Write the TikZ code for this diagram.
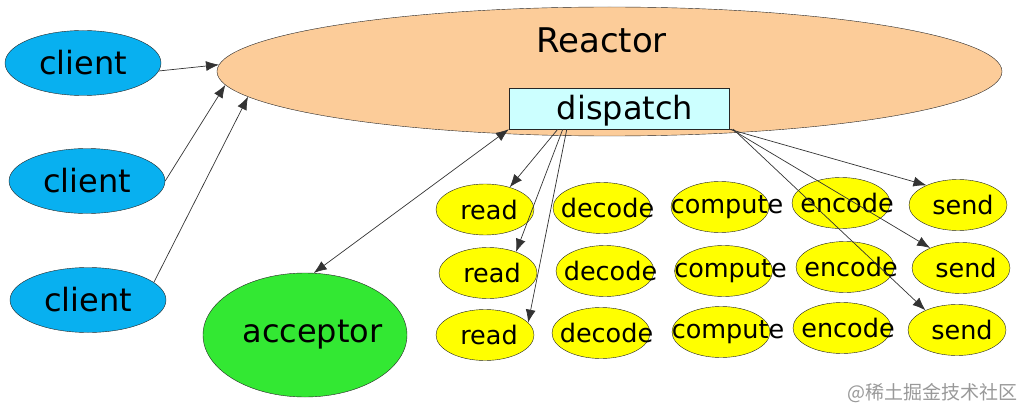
\documentclass[tikz,border=0pt]{standalone}
\usepackage{fontspec}
\setmainfont{DejaVu Sans}
\newfontfamily\cjkfont{Noto Sans CJK SC}
\usetikzlibrary{shapes.geometric,arrows.meta}

\definecolor{reactorpeach}{RGB}{252,204,153}
\definecolor{clientblue}{RGB}{8,176,240}
\definecolor{dispatchcyan}{RGB}{204,255,255}
\definecolor{acceptorgreen}{RGB}{51,232,51}
\definecolor{handleryellow}{RGB}{255,255,0}

\newcommand{\offtext}[2][10pt]{\makebox[0pt]{\hspace{#1}#2}}

\begin{document}
\begin{tikzpicture}[
                        x=1pt, y=-1pt,
                        >={Latex[length=13pt,width=10pt]},
                        bigfont/.style={
                            font=\fontsize{32}{38}\selectfont
                        },
                        smallfont/.style={
                            font=\fontsize{25.5}{30}\selectfont
                        },
                        client/.style={
                            ellipse,
                            draw=black!85,
                            fill=clientblue,
                            minimum width=156pt,
                            minimum height=65pt,
                            inner sep=0pt,
                            bigfont
                        },
                        handler/.style={
                            ellipse,
                            draw=black!85,
                            fill=handleryellow,
                            minimum width=98pt,
                            minimum height=51pt,
                            inner sep=0pt,
                            smallfont
                        },
                        line/.style={
                            draw=black!80,
                            line width=0.7pt,
                            ->
                        }]

                        \useasboundingbox (0,0) rectangle (1019,409);

                        \node (reactor) [ellipse, draw=black!85, fill=reactorpeach, minimum width=785pt, minimum height=129pt, inner sep=0pt,
                            label={[font=\fontsize{34}{40}\selectfont, xshift=-8pt, yshift=31pt]center:Reactor}] at (609.5,71.5) {};
                        \node (dispatch) [rectangle, draw=black!85, fill=dispatchcyan, minimum width=220pt, minimum height=41pt, inner sep=0pt,
                            text height=23pt, text depth=0pt, bigfont] at (619,108.5) {\offtext[12pt]{dispatch}};

                        \node (client_top) [client] at (83,63) {client};
                        \node (client_middle) [client] at (87,181) {client};
                        \node (client_bottom) [client] at (88,300) {client};

                        \node (acceptor) [ellipse, draw=black!85, fill=acceptorgreen, minimum width=204pt, minimum height=124pt, inner sep=0pt, bigfont] at (305,335) {\offtext[15pt]{acceptor}};

                        % read / decode / compute / encode / send
                        \node (read_top) [handler] at (485,209.5) {\offtext[8pt]{read}};
                        \node (read_middle) [handler] at (488,273) {\offtext[8pt]{read}};
                        \node (read_bottom) [handler] at (485,335) {\offtext[8pt]{read}};
                        \node (decode_top) [handler] at (602,208) {\offtext[11pt]{decode}};
                        \node (decode_middle) [handler] at (605,271) {\offtext[11pt]{decode}};
                        \node (decode_bottom) [handler] at (601,333) {\offtext[11pt]{decode}};
                        \node (compute_top) [handler] at (720,207) {\offtext[14pt]{compute}};
                        \node (compute_middle) [handler] at (723.5,271) {\offtext[14pt]{compute}};
                        \node (compute_bottom) [handler] at (721,332) {\offtext[14pt]{compute}};
                        \node (encode_top) [handler] at (841,203) {\offtext[12pt]{encode}};
                        \node (encode_middle) [handler] at (845,267) {\offtext[12pt]{encode}};
                        \node (encode_bottom) [handler] at (842,328) {\offtext[12pt]{encode}};
                        \node (send_top) [handler] at (958,205) {\offtext{send}};
                        \node (send_middle) [handler] at (961,268) {\offtext{send}};
                        \node (send_bottom) [handler] at (957,330) {\offtext{send}};

                        \node (watermark) [text=black!40, font=\cjkfont\fontsize{19}{22}\selectfont] at (932,393) {@稀土掘金技术社区};

                        \draw [line] (client_top.-6) -- (reactor.179);
                        \draw [line] (client_middle.east) -- (reactor.182.5);
                        \draw [line] (client_bottom.15) -- (reactor.184);

                        \draw [line, <->] (dispatch.south west) -- (acceptor.82);

                        \draw [line] ([xshift=49pt]dispatch.south west) -- (read_top.42);
                        \draw [line] ([xshift=54pt]dispatch.south west) -- (read_middle.37);
                        \draw [line] ([xshift=58pt]dispatch.south west) -- (read_bottom.16);

                        \draw [line] (dispatch.south east) -- (send_top.148);
                        \draw [line] ([xshift=2pt]dispatch.south east) -- (send_middle.147);
                        \draw [line] ([xshift=4pt]dispatch.south east) -- (send_bottom.148);

                    \end{tikzpicture}
\end{document}
